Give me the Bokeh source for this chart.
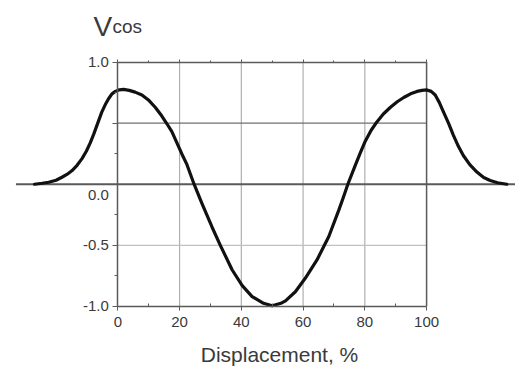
from bokeh.plotting import figure
from bokeh.models import LinearAxis, FixedTicker, Label, Range1d
from bokeh.embed import file_html
from bokeh.resources import INLINE

# ---- data ----
disp = [-27, -24.5, -22.4, -20, -18.1, -16.5, -14.9, -13.2, -11.6, -10.2, -8.9, -7.8, -6.8,
        -6.0, -5.2, -4.1, -3.0, -1.9, -0.8, 0.5, 1.8, 3.7, 5.6, 7.8, 9.9, 12.1, 14.2, 15.9,
        17.5, 19.1, 20.7, 22.4, 24.7, 27.3, 30.5, 33.2, 37.0, 40.3, 43.5, 47.2, 50.0, 52.8,
        54.3, 57.5, 60.7, 64.5, 66.9, 68.3, 71.6, 73.0, 74.5, 76.9, 78.5, 80.1, 82.0, 83.9,
        86.0, 88.3, 90.5, 92.6, 94.8, 96.9, 98.5, 100.1, 101.5, 102.8, 104.1, 105.5, 107.1,
        108.7, 110.3, 111.9, 114.0, 116.3, 118.5, 120.6, 123.0, 126.0]
vcos = [0.0, 0.008, 0.016, 0.033, 0.057, 0.08, 0.11, 0.155, 0.21, 0.27, 0.34, 0.41, 0.48,
        0.535, 0.59, 0.65, 0.70, 0.74, 0.76, 0.773, 0.776, 0.768, 0.754, 0.73, 0.69, 0.63,
        0.56, 0.495, 0.43, 0.34, 0.25, 0.16, 0.0, -0.16, -0.35, -0.5, -0.70, -0.83, -0.92,
        -0.975, -0.995, -0.975, -0.955, -0.88, -0.77, -0.62, -0.5, -0.43, -0.21, -0.11, 0.0,
        0.155, 0.255, 0.35, 0.44, 0.51, 0.575, 0.63, 0.675, 0.71, 0.74, 0.76, 0.768, 0.772,
        0.76, 0.73, 0.67, 0.59, 0.50, 0.40, 0.31, 0.235, 0.16, 0.10, 0.055, 0.03, 0.012, 0.0]

x_ticks = [0, 20, 40, 60, 80, 100]
x_minor = [10, 30, 50, 70, 90]
y_ticks = [-1.0, -0.5, 0.5, 1.0]
y_tick_labels = ["-1.0", "-0.5", "", "1.0"]
y_minor = [-0.75, -0.25, 0.25, 0.75]
zero_label = "0.0"
grid_x_light = [20, 40, 60, 80]
x_label = "Displacement, %"
title_main = "V"
title_sub = "cos"

FONT = "Liberation Sans"
FRAME = "#5a5a5a"
TXT = "#3a3a3a"

p = figure(width=515, height=371, x_range=Range1d(-38, 128.8), y_range=Range1d(-1.533, 1.504),
           x_axis_type=None, y_axis_type=None, toolbar_location=None, output_backend="svg",
           min_border=0, outline_line_color=None, background_fill_color="white")

# light vertical grid lines
p.segment(x0=grid_x_light, y0=[-1] * len(grid_x_light), x1=grid_x_light, y1=[1] * len(grid_x_light),
          line_color="#b0b0b0", line_width=1.2)
# horizontal grid lines
p.segment(x0=[0], y0=[-0.5], x1=[100], y1=[-0.5], line_color="#c0c0c0", line_width=1.2)
p.segment(x0=[0], y0=[0.5], x1=[100], y1=[0.5], line_color="#707070", line_width=1.4)
# right frame edge
p.segment(x0=[100], y0=[-1], x1=[100], y1=[1], line_color=FRAME, line_width=1.5)
# zero line across
p.segment(x0=[-33], y0=[0], x1=[130], y1=[0], line_color=FRAME, line_width=2)

# curve
p.line(disp, vcos, line_color="#111111", line_width=3.2, line_join="round", line_cap="round")

# axes
yax = LinearAxis(fixed_location=0, bounds=(-1, 1),
                 ticker=FixedTicker(ticks=y_ticks, minor_ticks=y_minor),
                 major_label_overrides={t: s for t, s in zip(y_ticks, y_tick_labels)},
                 axis_line_color=FRAME, axis_line_width=1.5,
                 major_tick_line_color=FRAME, minor_tick_line_color=FRAME,
                 major_tick_out=5, major_tick_in=0, minor_tick_out=3, minor_tick_in=0,
                 major_label_text_font=FONT, major_label_text_font_size="15px",
                 major_label_text_color=TXT, major_label_standoff=4)
p.add_layout(yax, "left")

xax = LinearAxis(fixed_location=-1, bounds=(0, 100),
                 ticker=FixedTicker(ticks=x_ticks, minor_ticks=x_minor),
                 axis_line_color=FRAME, axis_line_width=1.5,
                 major_tick_line_color=FRAME, minor_tick_line_color=FRAME,
                 major_tick_out=4, major_tick_in=0, minor_tick_out=0, minor_tick_in=3,
                 major_label_text_font=FONT, major_label_text_font_size="15px",
                 major_label_text_color=TXT, major_label_standoff=7)
p.add_layout(xax, "below")

tax = LinearAxis(fixed_location=1, bounds=(0, 100),
                 ticker=FixedTicker(ticks=x_ticks, minor_ticks=x_minor),
                 major_label_overrides={t: "" for t in x_ticks},
                 axis_line_color=FRAME, axis_line_width=1.5,
                 major_tick_line_color=FRAME, minor_tick_line_color=FRAME,
                 major_tick_out=3, major_tick_in=0, minor_tick_out=2, minor_tick_in=0)
p.add_layout(tax, "above")

p.add_layout(Label(x=0, y=0, text=zero_label, x_offset=-9, y_offset=-11,
                   text_align="right", text_baseline="middle", text_font=FONT,
                   text_font_size="15px", text_color=TXT))

# x-axis title
p.add_layout(Label(x=279, y=17, x_units="screen", y_units="screen", text=x_label,
                   text_align="center", text_baseline="alphabetic", text_font=FONT,
                   text_font_size="21px", text_color=TXT))

# title V_cos
p.add_layout(Label(x=93, y=371 - 26, x_units="screen", y_units="screen", text=title_main,
                   text_align="left", text_baseline="alphabetic", text_font=FONT,
                   text_font_size="28px", text_color=TXT))
p.add_layout(Label(x=112, y=371 - 26, x_units="screen", y_units="screen", text=title_sub,
                   text_align="left", text_baseline="alphabetic", text_font=FONT,
                   text_font_size="19px", text_color=TXT))

open("out.html", "w").write(file_html(p, INLINE))
